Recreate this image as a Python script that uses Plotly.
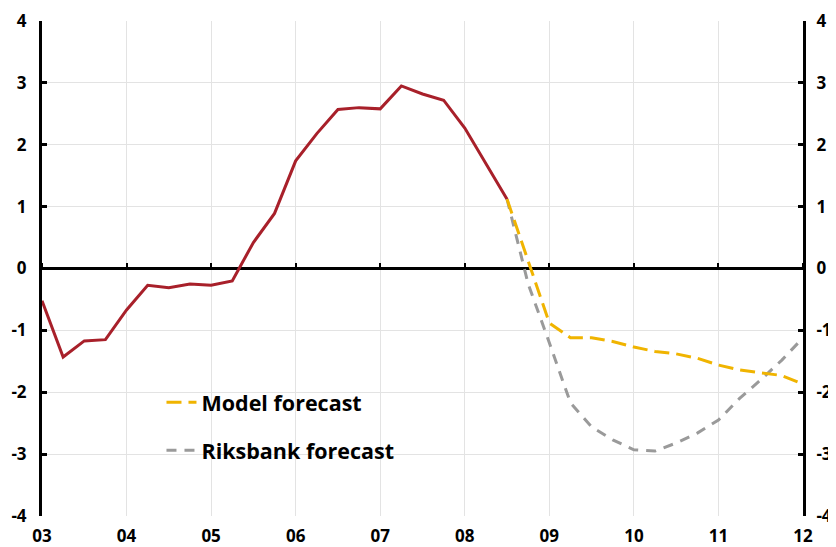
import plotly.graph_objects as go

# Quarterly data, 2003Q1 .. 2012Q1
start_year = 2003
outcome = [-0.52, -1.43, -1.17, -1.15, -0.67, -0.27, -0.31, -0.25, -0.27, -0.20,
           0.42, 0.89, 1.74, 2.18, 2.57, 2.60, 2.58, 2.95, 2.82, 2.72, 2.27, 1.70, 1.12]
model_fc = [1.12, 0.12, -0.88, -1.12, -1.12, -1.18, -1.27, -1.34, -1.38, -1.45,
            -1.56, -1.64, -1.69, -1.73, -1.87]
riksbank_fc = [1.12, -0.25, -1.20, -2.17, -2.56, -2.77, -2.93, -2.95, -2.82, -2.66,
               -2.45, -2.10, -1.80, -1.48, -1.12]
year_ticks = [2003, 2004, 2005, 2006, 2007, 2008, 2009, 2010, 2011, 2012]
year_labels = ["03", "04", "05", "06", "07", "08", "09", "10", "11", "12"]
y_ticks = [-4, -3, -2, -1, 0, 1, 2, 3, 4]
y_labels = ["-4", "-3", "-2", "-1", "0", "1", "2", "3", "4"]

x_out = [start_year + 0.25 * i for i in range(len(outcome))]
fc_start = x_out[-1]
x_fc = [fc_start + 0.25 * i for i in range(len(model_fc))]

FONT = "Open Sans"
fig = go.Figure()
fig.add_trace(go.Scatter(x=x_out, y=outcome, mode="lines", showlegend=False,
                         line=dict(color="#a8202a", width=3)))
fig.add_trace(go.Scatter(x=x_fc, y=riksbank_fc, mode="lines", name="Riksbank forecast",
                         legendrank=2, legendgroup="b",
                         line=dict(color="#9a9a9a", width=3, dash="10px,8px")))
fig.add_trace(go.Scatter(x=x_fc, y=model_fc, mode="lines", name="Model forecast",
                         legendrank=1, legendgroup="a",
                         line=dict(color="#f0b400", width=3, dash="15px,7px")))
# invisible helpers so the overlay axes render
fig.add_trace(go.Scatter(x=[year_ticks[0]], y=[0], xaxis="x2", yaxis="y2", mode="markers",
                         marker=dict(opacity=0), showlegend=False, hoverinfo="skip"))

fig.update_layout(
    width=836, height=547,
    margin=dict(l=34, r=41, t=13, b=39),
    plot_bgcolor="white", paper_bgcolor="white",
    font=dict(family=FONT, size=16, color="black", weight="bold"),
    xaxis=dict(range=[year_ticks[0], year_ticks[-1]], tickvals=year_ticks, ticktext=year_labels,
               showgrid=True, gridcolor="#e3e3e3", gridwidth=1, showline=False,
               ticks="", zeroline=False, automargin=False, ticklabelstandoff=8,
               tickfont=dict(size=17, weight="bold")),
    xaxis2=dict(range=[year_ticks[0], year_ticks[-1]], tickvals=year_ticks, overlaying="x",
                anchor="free", position=0.5, side="top", showticklabels=False,
                ticks="outside", ticklen=6, tickwidth=2, tickcolor="black", automargin=False,
                showgrid=False, showline=False, zeroline=False),
    yaxis=dict(range=[-4, 4], tickvals=y_ticks, ticktext=y_labels, showgrid=True,
               gridcolor="#e3e3e3", automargin=False, ticklabelstandoff=9,
               showline=True, linecolor="black", linewidth=3, ticks="inside", ticklen=5,
               tickwidth=3, tickcolor="black", zeroline=True, zerolinecolor="black",
               zerolinewidth=3, tickfont=dict(size=17, weight="bold")),
    yaxis2=dict(range=[-4, 4], tickvals=y_ticks, ticktext=y_labels, overlaying="y",
                side="right", anchor="x", automargin=False, ticklabelstandoff=7,
                showgrid=False, showline=True, linecolor="black", linewidth=3,
                ticks="inside", ticklen=5, tickwidth=3, tickcolor="black", zeroline=False,
                tickfont=dict(size=17, weight="bold")),
    legend=dict(x=0.157, y=0.271, xanchor="left", yanchor="top", bgcolor="rgba(0,0,0,0)",
                font=dict(family=FONT, size=21.5, weight="bold"), tracegroupgap=17,
                itemwidth=30),
    showlegend=True,
)

fig.write_html("out.html")
